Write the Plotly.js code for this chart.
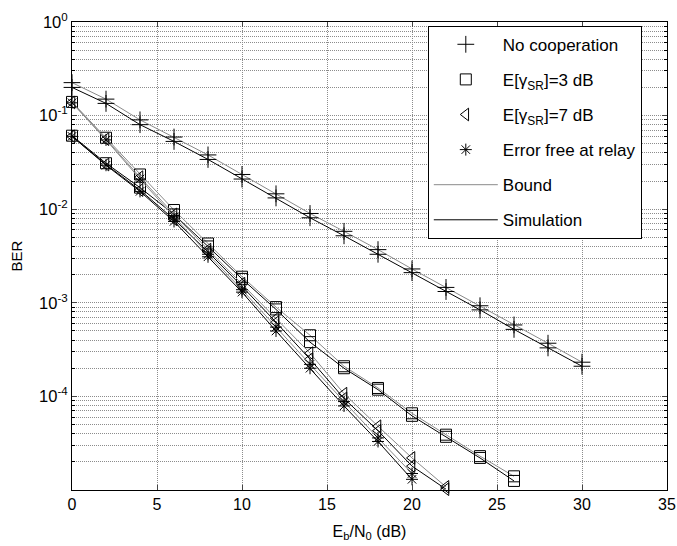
<!DOCTYPE html>
<html>
<head>
<meta charset="utf-8">
<script src="https://cdn.plot.ly/plotly-3.0.1.min.js"></script>
<style>html,body{margin:0;padding:0;background:#fff;}#chart{width:677px;height:546px;}</style>
</head>
<body>
<div id="chart"></div>
<script>
// ---------- data ----------
const snrNoCoop = [0,2,4,6,8,10,12,14,16,18,20,22,24,26,28,30];
const berNoCoopBound = [0.225,0.15,0.09,0.059,0.038,0.0235,0.0146,0.009,0.0058,0.0037,0.0023,0.00146,0.00093,0.00058,0.00037,0.000232];
const berNoCoopSim   = [0.20,0.135,0.08,0.053,0.034,0.021,0.0132,0.0081,0.0052,0.0033,0.0021,0.00132,0.00084,0.00052,0.00033,0.00021];

const snr3dB = [0,2,4,6,8,10,12,14,16,18,20,22,24,26];
const ber3dBBound = [0.14,0.058,0.0235,0.0098,0.0043,0.0019,0.0009,0.00045,0.00021,0.000123,0.000066,0.000039,0.000023,0.000014];
const ber3dBSim   = [0.061,0.031,0.017,0.0088,0.004,0.0018,0.00085,0.00038,0.0002,0.000118,0.000062,0.000037,0.000022,0.0000125];

const snr7dB = [0,2,4,6,8,10,12,14,16,18,20,22];
const ber7dBBound = [0.138,0.056,0.022,0.0088,0.0037,0.0016,0.00068,0.00029,0.000107,0.000048,0.000022,0.0000108];
const ber7dBSim   = [0.06,0.03,0.016,0.0078,0.0035,0.0015,0.00062,0.00025,0.000095,0.000043,0.000018,0.0000102];

const snrFree = [0,2,4,6,8,10,12,14,16,18,20];
const berFreeBound = [0.137,0.055,0.021,0.0083,0.0033,0.00138,0.00055,0.00022,0.000088,0.000036,0.000015];
const berFreeSim   = [0.06,0.0295,0.0155,0.0074,0.0031,0.0013,0.0005,0.0002,0.000079,0.000033,0.000013];

const legendNames = ['No cooperation','E[γ<sub>SR</sub>]=3 dB','E[γ<sub>SR</sub>]=7 dB','Error free at relay','Bound','Simulation'];
const xTickVals = [0,5,10,15,20,25,30,35];
const yTickVals = [1e-4,1e-3,1e-2,1e-1,1];
const yTickText = ['10<sup>-4</sup>','10<sup>-3</sup>','10<sup>-2</sup>','10<sup>-1</sup>','10<sup>0</sup>'];

// ---------- styles ----------
const FONT = 'Liberation Sans, Arial, sans-serif';
const boundColor = '#8a8a8a';
const simColor = '#000000';
const symbols = {nc:'cross-thin-open', s3:'square-open', s7:'triangle-left-open', fr:'asterisk-open'};
const sizes = {nc:12, s3:11, s7:11, fr:10};

function curve(x, y, sym, size, lineColor){
  return {
    x: x, y: y, type:'scatter', mode:'lines+markers', showlegend:false, cliponaxis:false,
    line:{color:lineColor, width:1},
    marker:{symbol:sym, size:size, color:'#000', line:{color:'#000', width:1}},
    hoverinfo:'skip'
  };
}

const traces = [
  curve(snrNoCoop, berNoCoopBound, symbols.nc, sizes.nc, boundColor),
  curve(snrNoCoop, berNoCoopSim,   symbols.nc, sizes.nc, simColor),
  curve(snr3dB, ber3dBBound, symbols.s3, sizes.s3, boundColor),
  curve(snr3dB, ber3dBSim,   symbols.s3, sizes.s3, simColor),
  curve(snr7dB, ber7dBBound, symbols.s7, sizes.s7, boundColor),
  curve(snr7dB, ber7dBSim,   symbols.s7, sizes.s7, simColor),
  curve(snrFree, berFreeBound, symbols.fr, sizes.fr, boundColor),
  curve(snrFree, berFreeSim,   symbols.fr, sizes.fr, simColor)
];

// legend-only entries
const legendSyms = [symbols.nc, symbols.s3, symbols.s7, symbols.fr];
const legendSizes = [sizes.nc, sizes.s3, sizes.s7, sizes.fr];
for (let i = 0; i < 4; i++) {
  traces.push({x:[null], y:[null], type:'scatter', mode:'markers', name:legendNames[i],
    legendgroup:'g'+i, showlegend:true,
    marker:{symbol:legendSyms[i], size:legendSizes[i], color:'#000', line:{color:'#000', width:1}}});
}
traces.push({x:[null], y:[null], type:'scatter', mode:'lines', name:legendNames[4], legendgroup:'g4',
  line:{color:boundColor, width:1}});
traces.push({x:[null], y:[null], type:'scatter', mode:'lines', name:legendNames[5], legendgroup:'g5',
  line:{color:simColor, width:1}});

// minor log ticks
const minorVals = [];
for (let e = -5; e < 0; e++) for (let m = 2; m <= 9; m++) minorVals.push(m * Math.pow(10, e));

const gridColor = '#8c8c8c';
const gridDash = '1px,1px';
const layout = {
  width:677, height:546,
  margin:{l:72, r:10, t:22, b:56},
  paper_bgcolor:'#fff', plot_bgcolor:'#fff',
  font:{family:FONT, size:15, color:'#000'},
  showlegend:true,
  legend:{x:0.598, y:0.992, xanchor:'left', yanchor:'top', bgcolor:'#fff',
    bordercolor:'#000', borderwidth:1, font:{family:FONT, size:17, color:'#000'},
    tracegroupgap:10, itemwidth:64, traceorder:'grouped'},
  xaxis:{range:[0,35], tickmode:'array', tickvals:xTickVals, ticks:'inside', ticklen:5,
    showline:true, linecolor:'#000', linewidth:1, mirror:'allticks',
    showgrid:true, gridcolor:gridColor, griddash:gridDash, gridwidth:1, zeroline:false,
    tickfont:{family:FONT, size:16, color:'#000'},
    title:{text:'E<sub>b</sub>/N<sub>0</sub> (dB)', font:{family:FONT, size:16, color:'#000'}, standoff:13}},
  yaxis:{type:'log', range:[-5,0], tickmode:'array', tickvals:yTickVals, ticktext:yTickText,
    ticks:'inside', ticklen:5, showline:true, linecolor:'#000', linewidth:1, mirror:'allticks',
    showgrid:true, gridcolor:gridColor, griddash:gridDash, gridwidth:1, zeroline:false,
    tickfont:{family:FONT, size:16.5, color:'#000'},
    minor:{tickmode:'array', tickvals:minorVals, ticks:'inside', ticklen:3, tickcolor:'#000',
      showgrid:true, gridcolor:gridColor, griddash:gridDash, gridwidth:1},
    title:{text:'BER', font:{family:FONT, size:15, color:'#000'}, standoff:12}}
};

Plotly.newPlot('chart', traces, layout, {displayModeBar:false, staticPlot:true});
</script>
</body>
</html>
